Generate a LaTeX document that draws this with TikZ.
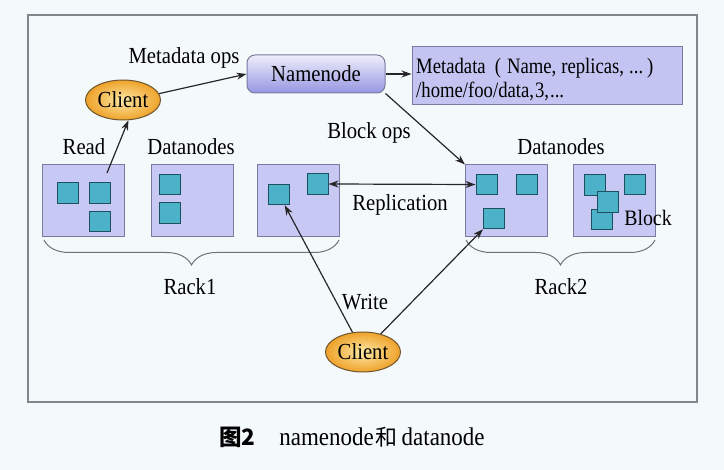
\documentclass[tikz,border=0pt]{standalone}
\usepackage{fontspec}
\setmainfont{Liberation Serif}[FakeStretch=0.9]
\newfontfamily\mdfont{Liberation Serif}[FakeStretch=0.85]
\newfontfamily\cjk{Noto Sans CJK SC}
\usetikzlibrary{arrows.meta,decorations.pathreplacing,shapes.geometric}
\definecolor{bgc}{RGB}{244,250,252}
\definecolor{framec}{RGB}{130,135,140}
\definecolor{dnfill}{RGB}{200,200,244}
\definecolor{dnline}{RGB}{120,122,160}
\definecolor{blkfill}{RGB}{76,178,202}
\definecolor{blkline}{RGB}{30,80,95}
\definecolor{mdfill}{RGB}{196,196,242}
\definecolor{nntop}{RGB}{238,238,252}
\definecolor{nnbot}{RGB}{150,150,226}
\definecolor{clin}{RGB}{253,232,165}
\definecolor{clout}{RGB}{238,162,42}
\definecolor{clline}{RGB}{110,85,45}
\definecolor{bracec}{RGB}{110,115,120}
\tikzset{
  lbl/.style={inner sep=0pt, font=\fontsize{23}{26}\selectfont},
  dnbox/.style={draw=dnline, line width=1pt, fill=dnfill, minimum width=82pt, minimum height=72pt, inner sep=0pt},
  blk/.style={draw=blkline, line width=1pt, fill=blkfill, minimum width=21pt, minimum height=20.5pt, inner sep=0pt},
  client/.style={ellipse, draw=clline, line width=1pt, inner color=clin, outer color=clout, minimum width=75pt, minimum height=40pt, inner sep=0pt, font=\fontsize{23}{26}\selectfont},
  arr/.style={-{Stealth[length=10pt,width=7pt]}, line width=1.2pt, black!85},
  darr/.style={{Stealth[length=10pt,width=7pt]}-{Stealth[length=10pt,width=7pt]}, line width=1.2pt, black!85},
  rackbrace/.style={draw=bracec, line width=1pt, decorate, decoration={brace, mirror, amplitude=25pt}}
}
\begin{document}
\begin{tikzpicture}[x=1pt,y=-1pt]
\useasboundingbox (0,0) rectangle (724,470);
\fill[bgc] (0,0) rectangle (724,470);
\draw[framec, line width=1.2pt] (28,15) rectangle (697,402);

% namenode and metadata
\node[draw=dnline, line width=1pt, rounded corners=8pt, top color=nntop, bottom color=nnbot, minimum width=138pt, minimum height=38pt, inner sep=0pt, font=\fontsize{23}{26}\selectfont] (nn) at (316,74) {Namenode};
\node[draw=dnline, line width=1pt, fill=mdfill, minimum width=270pt, minimum height=58pt, inner sep=0pt] (md) at (547,76) {};
\node[anchor=west, inner sep=0pt, align=left, font=\mdfont\fontsize{22}{23.5}\selectfont] (mdt) at (416,79.5) {Metadata\hspace{9pt}(\hspace{6pt}Name,\hspace{5pt}replicas,\hspace{5pt}...\hspace{4pt})\\/home/foo/data,\hspace{1pt}3,\hspace{1pt}...};

% clients
\node[client] (c1) at (123,100) {Client};
\node[client] (c2) at (363,352) {Client};

% datanode boxes
\node[dnbox] (b1) at (83,201) {};
\node[dnbox] (b2) at (192,201) {};
\node[dnbox] (b3) at (298.5,201) {};
\node[dnbox] (b4) at (506.5,201) {};
\node[dnbox] (b5) at (614.5,201) {};

% blocks
\node[blk] (s1a) at (68,193) {};
\node[blk] (s1b) at (99.5,193) {};
\node[blk] (s1c) at (99.5,221.5) {};
\node[blk] (s2a) at (170,184.5) {};
\node[blk] (s2b) at (170,213) {};
\node[blk] (s3a) at (279,194.5) {};
\node[blk] (s3b) at (317.5,184) {};
\node[blk] (s4a) at (486.5,184.5) {};
\node[blk] (s4b) at (526.5,184.5) {};
\node[blk] (s4c) at (493.5,218.5) {};
\node[blk] (s5a) at (594.5,185) {};
\node[blk] (s5b) at (634.5,184.5) {};
\node[blk] (s5d) at (601.5,219.5) {};
\node[blk] (s5c) at (607.5,202) {};

% labels
\node[lbl] (lmo) at (184,58) {Metadata ops};
\node[lbl] (lrd) at (84,147) {Read};
\node[lbl] (ldn1) at (191,147) {Datanodes};
\node[lbl] (lbo) at (369,133) {Block ops};
\node[lbl] (ldn2) at (561,147) {Datanodes};
\node[lbl] (lrep) at (400,205) {Replication};
\node[lbl, font=\fontsize{22}{26}\selectfont] (lblk) at (648,218) {Block};
\node[lbl] (lr1) at (190,287) {Rack1};
\node[lbl] (lr2) at (561,287) {Rack2};
\node[lbl] (lwr) at (365,302) {Write};

% braces
\coordinate (r1l) at (44,240);
\coordinate (r1r) at (339,240);
\coordinate (r2l) at (466,240);
\coordinate (r2r) at (655,240);
\draw[rackbrace] (r1l) -- (r1r);
\draw[rackbrace] (r2l) -- (r2r);

% connectors
\coordinate (rdst) at (107,173);
\draw[arr] (rdst) -- (c1.-75);
\draw[arr] (c1.10) -- (nn.west);
\draw[arr] (nn.east) -- (nn.east -| md.west);
\draw[arr] (nn.south east) -- (b4.north west);
\draw[darr] (s3b.east) -- (s4a.west);
\draw[arr] (c2) -- (s3a);
\draw[arr] (c2) -- (s4c);

% caption
\node[anchor=west, inner sep=0pt, font=\fontsize{25.5}{28}\selectfont] (cap) at (219,437) {{\cjk\fontsize{22.5}{26}\selectfont\bfseries 图2}\hspace{24pt}namenode\hspace{2pt}{\cjk\fontsize{22}{26}\selectfont 和}\hspace{4pt}datanode};
\end{tikzpicture}
\end{document}
